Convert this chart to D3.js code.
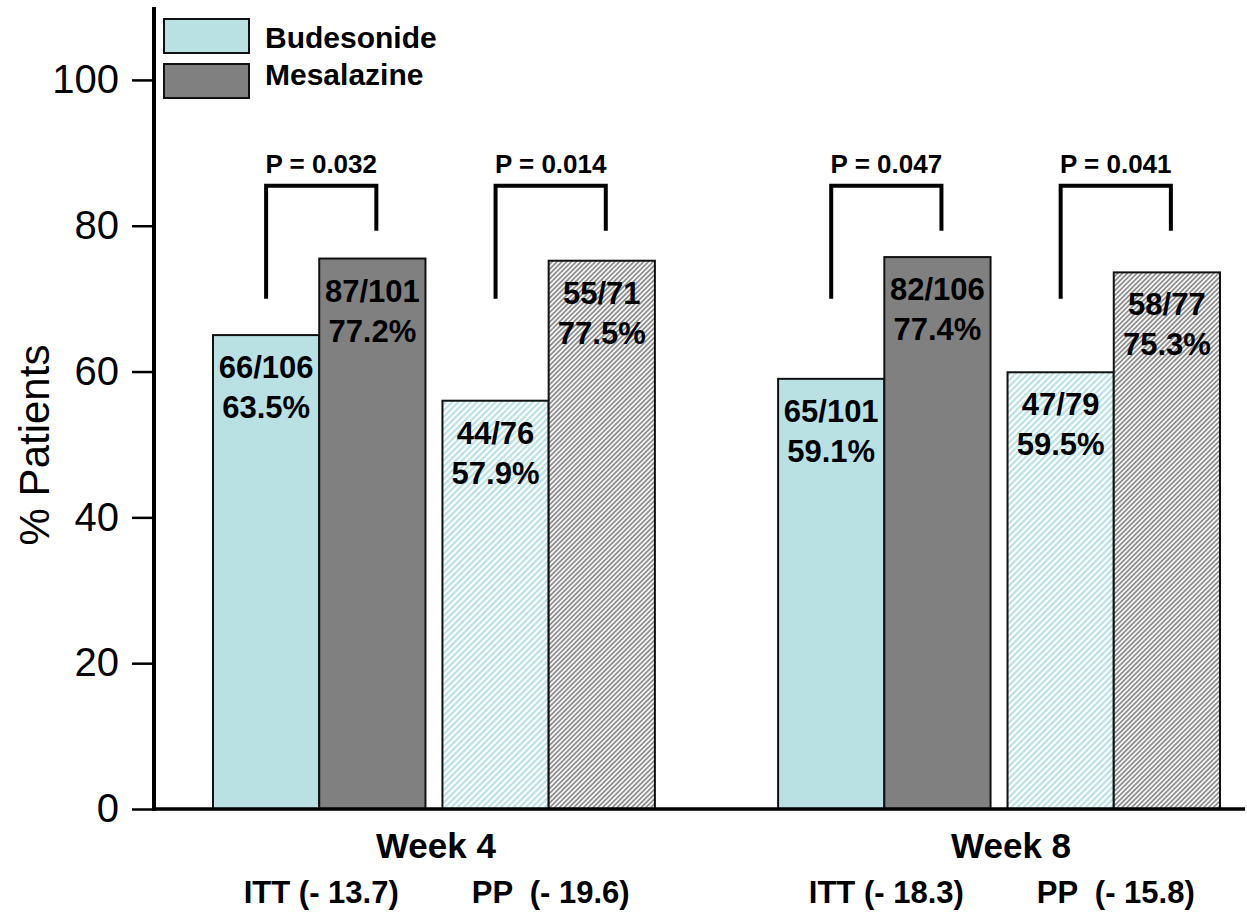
<!DOCTYPE html>
<html>
<head>
<meta charset="utf-8">
<script src="https://cdn.jsdelivr.net/npm/d3@7"></script>
<style>
  html, body { margin: 0; padding: 0; background: #fff; }
  svg { display: block; font-family: "Liberation Sans", Arial, Helvetica, sans-serif; }
</style>
</head>
<body>
<svg id="chart" width="1247" height="915"></svg>
<script>
// ---------- data ----------
const weeks = ["Week 4", "Week 8"];
const analyses = ["ITT", "PP"];
const treatments = ["Budesonide", "Mesalazine"];
// bar heights as drawn (order: W4 ITT, W4 PP, W8 ITT, W8 PP)
const budesonideValues = [65.0, 56.0, 59.0, 59.9];
const mesalazineValues = [75.5, 75.2, 75.7, 73.6];
const budesonideFractions = ["66/106", "44/76", "65/101", "47/79"];
const budesonidePercents = ["63.5%", "57.9%", "59.1%", "59.5%"];
const mesalazineFractions = ["87/101", "55/71", "82/106", "58/77"];
const mesalazinePercents = ["77.2%", "77.5%", "77.4%", "75.3%"];
const pValues = ["P = 0.032", "P = 0.014", "P = 0.047", "P = 0.041"];
const differenceLabels = ["ITT (- 13.7)", "PP  (- 19.6)", "ITT (- 18.3)", "PP  (- 15.8)"];
const yTicks = [0, 20, 40, 60, 80, 100];
const yLabel = "% Patients";

// bracket levels (in % units)
const bracketTop = 85.5, bracketLeftFoot = 70, bracketRightFoot = 79.3, pLabelLevel = 87.3;

// ---------- layout ----------
const svg = d3.select("#chart");
const y = d3.scaleLinear().domain([0, 110]).range([809, 7]);
const xWeek = d3.scaleBand().domain(weeks).range([213, 1220]).paddingInner(0.218).paddingOuter(0);
const xAnalysis = d3.scaleBand().domain(analyses).range([0, xWeek.bandwidth()]).paddingInner(0.074).paddingOuter(0);
const xTreat = d3.scaleBand().domain(treatments).range([0, xAnalysis.bandwidth()]).padding(0);

const budColor = "#b9e0e3";
const mesColor = "#808080";

// patterns
const defs = svg.append("defs");
const pb = defs.append("pattern").attr("id", "hatchBud")
  .attr("patternUnits", "userSpaceOnUse").attr("width", 4.4).attr("height", 4.4)
  .attr("patternTransform", "rotate(45)");
pb.append("rect").attr("width", 4.4).attr("height", 4.4).attr("fill", "#fff");
pb.append("line").attr("x1", 1.2).attr("x2", 1.2).attr("y1", 0).attr("y2", 4.4)
  .attr("stroke", budColor).attr("stroke-width", 2.2);
const pm = defs.append("pattern").attr("id", "hatchMes")
  .attr("patternUnits", "userSpaceOnUse").attr("width", 3.4).attr("height", 3.4)
  .attr("patternTransform", "rotate(45)");
pm.append("rect").attr("width", 3.4).attr("height", 3.4).attr("fill", "#fff");
pm.append("line").attr("x1", 1).attr("x2", 1).attr("y1", 0).attr("y2", 3.4)
  .attr("stroke", "#858585").attr("stroke-width", 1.7);

// build rows
const rows = [];
weeks.forEach((w, wi) => analyses.forEach((a, ai) => {
  const i = wi * 2 + ai;
  rows.push({ week: w, analysis: a, i,
    bud: budesonideValues[i], mes: mesalazineValues[i],
    budF: budesonideFractions[i], budP: budesonidePercents[i],
    mesF: mesalazineFractions[i], mesP: mesalazinePercents[i],
    p: pValues[i], diff: differenceLabels[i] });
}));
const pairX = d => xWeek(d.week) + xAnalysis(d.analysis);

// bars
const g = svg.append("g");
rows.forEach(d => {
  const x0 = pairX(d);
  const hatched = d.analysis === "PP";
  [["Budesonide", d.bud, d.budF, d.budP], ["Mesalazine", d.mes, d.mesF, d.mesP]].forEach(([t, v, f, p]) => {
    const bx = x0 + xTreat(t);
    const fill = hatched ? (t === "Budesonide" ? "url(#hatchBud)" : "url(#hatchMes)")
                         : (t === "Budesonide" ? budColor : mesColor);
    g.append("rect").attr("x", bx).attr("y", y(v)).attr("width", xTreat.bandwidth())
      .attr("height", y(0) - y(v)).attr("fill", fill)
      .attr("stroke", "#111").attr("stroke-width", 2);
    const cx = bx + xTreat.bandwidth() / 2;
    g.append("text").attr("x", cx).attr("y", y(v) + 43).attr("text-anchor", "middle")
      .attr("font-size", 31).attr("font-weight", "bold").attr("fill", "#000").text(f);
    g.append("text").attr("x", cx).attr("y", y(v) + 83).attr("text-anchor", "middle")
      .attr("font-size", 31).attr("font-weight", "bold").attr("fill", "#000").text(p);
  });
  // bracket
  const lx = x0 + xTreat("Budesonide") + xTreat.bandwidth() / 2;
  const rx = x0 + xTreat("Mesalazine") + xTreat.bandwidth() / 2 + 4;
  g.append("path")
    .attr("d", `M${lx},${y(bracketLeftFoot)}V${y(bracketTop)}H${rx}V${y(bracketRightFoot)}`)
    .attr("fill", "none").attr("stroke", "#000").attr("stroke-width", 4);
  g.append("text").attr("x", (lx + rx) / 2).attr("y", y(pLabelLevel)).attr("text-anchor", "middle")
    .attr("font-size", 26).attr("font-weight", "bold").text(d.p);
  // difference label
  g.append("text").attr("x", x0 + xAnalysis.bandwidth() / 2 + 2).attr("y", 903)
    .attr("text-anchor", "middle").attr("font-size", 31).attr("font-weight", "bold")
    .style("white-space", "pre").text(d.diff);
});

// week labels
weeks.forEach((w, wi) => {
  svg.append("text").attr("x", xWeek(w) + xWeek.bandwidth() / 2 + (wi === 1 ? 12 : 2)).attr("y", 858)
    .attr("text-anchor", "middle").attr("font-size", 35).attr("font-weight", "bold").text(w);
});

// y axis
const yAxis = d3.axisLeft(y).tickValues(yTicks).tickSize(22).tickPadding(13).tickSizeOuter(0);
const ag = svg.append("g").attr("transform", "translate(154,0)").call(yAxis);
ag.select(".domain").remove();
ag.selectAll(".tick line").attr("stroke", "#000").attr("stroke-width", 2.5);
ag.selectAll(".tick text").attr("font-size", 40).attr("fill", "#000")
  .attr("font-family", "'Liberation Sans', Arial, Helvetica, sans-serif");
svg.append("line").attr("x1", 154).attr("x2", 154).attr("y1", y(110)).attr("y2", y(0) + 2)
  .attr("stroke", "#000").attr("stroke-width", 4);
// x axis line
svg.append("line").attr("x1", 152).attr("x2", 1245).attr("y1", y(0)).attr("y2", y(0))
  .attr("stroke", "#000").attr("stroke-width", 3.5);

// y label
svg.append("text").attr("transform", `translate(49,${445}) rotate(-90)`)
  .attr("text-anchor", "middle").attr("font-size", 42).text(yLabel);

// legend
const legend = svg.append("g");
treatments.forEach((t, i) => {
  legend.append("rect").attr("x", 164).attr("y", 19 + i * 45).attr("width", 85).attr("height", 34)
    .attr("fill", i === 0 ? budColor : mesColor).attr("stroke", "#111").attr("stroke-width", 2);
  legend.append("text").attr("x", 265).attr("y", 48 + i * 37).attr("font-size", 30)
    .attr("font-weight", "bold").text(t);
});
</script>
</body>
</html>
